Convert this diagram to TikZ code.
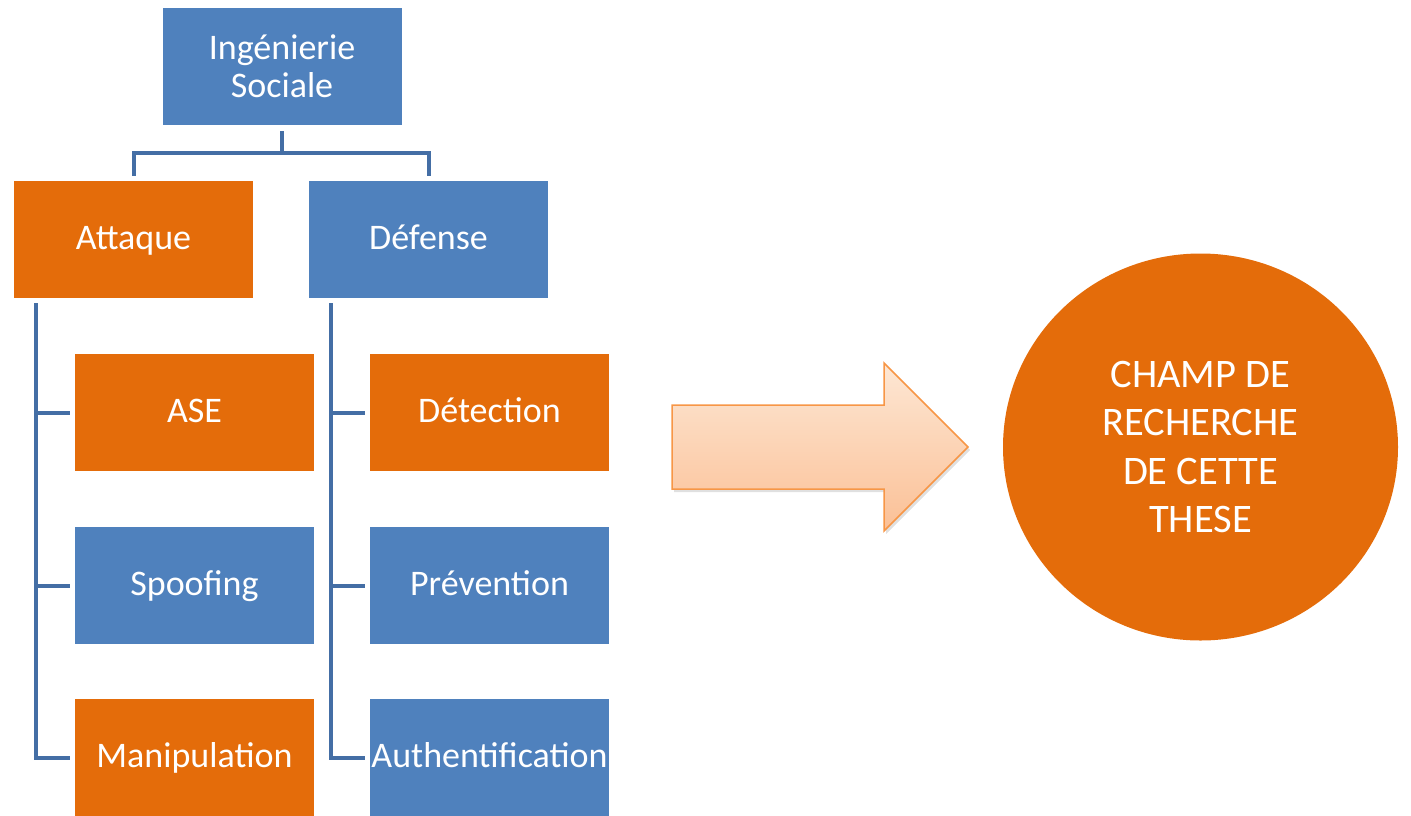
\documentclass[tikz,border=0pt]{standalone}
\usepackage{fontspec}
\setmainfont{Carlito}
\usetikzlibrary{shapes.geometric,calc}
\definecolor{boxblue}{RGB}{79,129,189}
\definecolor{boxorange}{RGB}{228,108,10}
\definecolor{connblue}{RGB}{68,110,165}
\definecolor{arrowtop}{RGB}{253,231,212}
\definecolor{arrowbot}{RGB}{251,192,150}
\definecolor{arrowline}{RGB}{247,150,70}
\tikzset{
  boxbase/.style={rectangle, minimum width=239pt, minimum height=117pt, inner sep=0pt,
    text=white, font=\fontsize{36}{39}\selectfont, align=center},
  oneline/.style={text height=25pt, text depth=6pt},
  bluebox/.style={boxbase, fill=boxblue},
  orangebox/.style={boxbase, fill=boxorange},
  conn/.style={draw=connblue, line width=4pt},
}
\begin{document}
\begin{tikzpicture}[x=1pt,y=1pt]
\useasboundingbox (0,0) rectangle (1411,-815);
% top
\node[bluebox] (top) at (282,-66.5) {Ingénierie\\[-1pt]Sociale};
\node[orangebox, oneline] (att) at (133.5,-239.5) {Attaque};
\node[bluebox, oneline] (def) at (428.5,-239.5) {Défense};
% children
\node[orangebox, oneline] (ase) at (194.5,-412.5) {ASE};
\node[bluebox, oneline] (spo) at (194.5,-585.5) {Spoofing};
\node[orangebox, oneline] (man) at (194.5,-757.5) {Manipulation};
\node[orangebox, oneline] (det) at (489.5,-412.5) {Détection};
\node[bluebox, oneline] (pre) at (489.5,-585.5) {Prévention};
\node[bluebox, oneline] (aut) at (489.5,-757.5) {Authentification};
% top connector
\draw[conn] ([yshift=-6pt]top.south) -- ++(0,-22);
\draw[conn] ([yshift=5pt]att.north) |- ([yshift=28pt]def.north) -- ([yshift=5pt]def.north);
% left bus
\coordinate (lb) at ([xshift=22pt,yshift=-5pt]att.south west);
\draw[conn] (lb) |- ([xshift=-5pt]man.west);
\draw[conn] (lb |- ase.west) -- ([xshift=-5pt]ase.west);
\draw[conn] (lb |- spo.west) -- ([xshift=-5pt]spo.west);
% right bus
\coordinate (rb) at ([xshift=22pt,yshift=-5pt]def.south west);
\draw[conn] (rb) |- ([xshift=-5pt]aut.west);
\draw[conn] (rb |- det.west) -- ([xshift=-5pt]det.west);
\draw[conn] (rb |- pre.west) -- ([xshift=-5pt]pre.west);
% big arrow
\fill[black!12] (674,-408) -- (886,-408) -- (886,-366) -- (970,-450) -- (886,-534) -- (886,-492) -- (674,-492) -- cycle;
\shade[top color=arrowtop, bottom color=arrowbot, draw=arrowline, line width=1.5pt, line join=miter]
  (672,-405) -- (884,-405) -- (884,-363) -- (968,-447) -- (884,-531) -- (884,-489) -- (672,-489) -- cycle;
% circle
\node[ellipse, fill=boxorange, minimum width=395pt, minimum height=387pt, inner sep=0pt,
  text=white, align=center, font=\fontsize{40.5}{48.5}\selectfont] (champ) at (1200.5,-447)
  {CHAMP DE\\RECHERCHE\\DE CETTE\\THESE};
\end{tikzpicture}
\end{document}
